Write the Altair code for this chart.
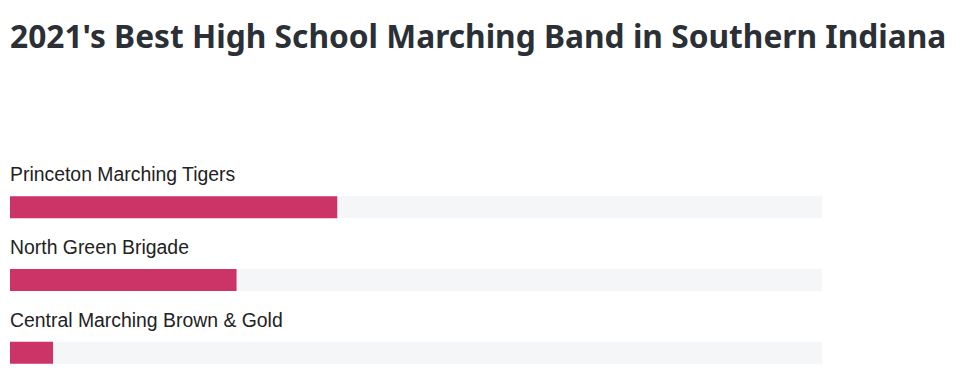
import altair as alt
import pandas as pd

names = ["Princeton Marching Tigers", "North Green Brigade", "Central Marching Brown & Gold"]
values = [40.3, 27.9, 5.3]
totals = [100, 100, 100]

df = pd.DataFrame({"name": names, "value": values, "total": totals})

ysc = alt.Y("name:N", sort=names, axis=None,
            scale=alt.Scale(paddingInner=0, paddingOuter=0))
base = alt.Chart(df).encode(y=ysc)

bg = base.mark_bar(color="#f5f6f8", size=22).encode(
    x=alt.X("total:Q", scale=alt.Scale(domain=[0, 100]), axis=None)
)
fg = base.mark_bar(color="#cc3468", size=22).encode(x="value:Q")
txt = base.mark_text(align="left", baseline="middle", dy=-32, fontSize=19.4,
                     font="Liberation Sans", color="#222222").encode(
    x=alt.value(0), text="name:N"
)

chart = alt.layer(bg, fg, txt).properties(
    width=812, height=218,
    title=alt.TitleParams(
        "2021's Best High School Marching Band in Southern Indiana",
        anchor="start", fontSize=31.7, font="Noto Sans", fontWeight="bold",
        color="#2b2f36", baseline="alphabetic", offset=86, limit=975,
    ),
    autosize=alt.AutoSizeParams(type="none"),
    padding={"left": 10, "top": 171, "right": 158, "bottom": 0},
    background="#ffffff",
).configure_view(stroke=None)

chart.save("out.html", embed_options={"renderer": "svg", "actions": False})
